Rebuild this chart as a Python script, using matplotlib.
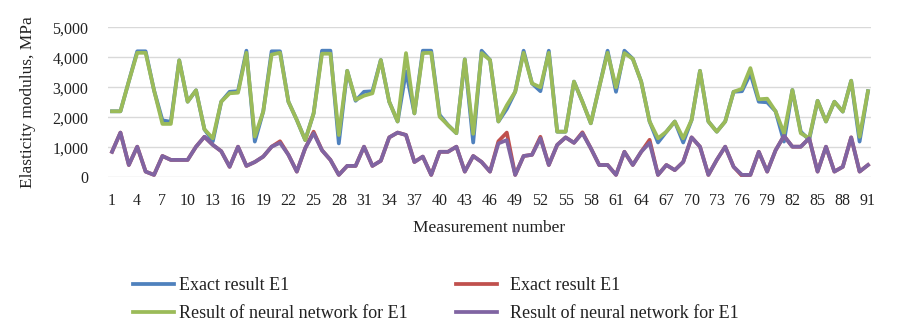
import matplotlib
matplotlib.use("Agg")
import matplotlib.pyplot as plt
from matplotlib.ticker import FuncFormatter, FixedLocator

measurement = list(range(1, 92))

exact_upper = [2200, 2200, 3200, 4200, 4200, 2900, 1900, 1850, 3900, 2520,
               2900, 1600, 1200, 2520, 2850, 2870, 4220, 1190, 2190, 4200,
               4200, 2520, 1910, 1240, 2130, 4220, 4220, 1130, 3550, 2550,
               2850, 2870, 3910, 2520, 1860, 3530, 2130, 4220, 4220, 2080,
               1740, 1470, 3930, 1160, 4220, 3910, 1860, 2280, 2850, 4220,
               3130, 2870, 4220, 1520, 1520, 3190, 2520, 1800, 3000, 4220,
               2850, 4220, 3950, 3190, 1860, 1160, 1520, 1860, 1160, 1910,
               3550, 1860, 1520, 1860, 2850, 2870, 3460, 2520, 2500, 2200,
               1190, 2910, 1520, 1250, 2550, 1860, 2520, 2190, 3220, 1190,
               2870]

nn_upper = [2200, 2200, 3200, 4150, 4150, 2900, 1780, 1780, 3900, 2520,
            2900, 1600, 1300, 2520, 2800, 2820, 4150, 1355, 2190, 4090,
            4150, 2520, 1910, 1240, 2130, 4120, 4120, 1410, 3550, 2580,
            2720, 2800, 3910, 2520, 1860, 4140, 2130, 4140, 4150, 2020,
            1740, 1470, 3930, 1450, 4140, 3910, 1860, 2400, 2850, 4150,
            3130, 3000, 4150, 1520, 1520, 3190, 2520, 1800, 3000, 4150,
            3000, 4140, 3950, 3190, 1860, 1300, 1520, 1860, 1300, 1910,
            3550, 1860, 1520, 1860, 2850, 2950, 3640, 2600, 2620, 2200,
            1470, 2910, 1470, 1300, 2550, 1860, 2520, 2190, 3220, 1350,
            2870]

nn_lower = [850, 1490, 410, 1020, 190, 80, 710, 580, 580, 580,
            1020, 1350, 1080, 870, 350, 1020, 380, 510, 690, 1020,
            1150, 750, 190, 970, 1470, 900, 580, 80, 380, 380,
            1020, 380, 550, 1330, 1490, 1410, 510, 690, 80, 850,
            850, 1020, 190, 710, 510, 190, 1130, 1240, 80, 710,
            750, 1300, 410, 1080, 1330, 1150, 1470, 970, 410, 410,
            80, 850, 410, 850, 1150, 80, 410, 240, 510, 1330,
            1020, 80, 580, 1020, 350, 80, 80, 850, 190, 900,
            1380, 1020, 1020, 1300, 190, 1020, 190, 350, 1330, 190,
            410]

exact_lower = list(nn_lower)
for idx, val in {21: 1200, 25: 1520, 47: 1200, 48: 1490, 52: 1350,
                 57: 1500, 65: 1250, 76: 50}.items():
    exact_lower[idx - 1] = val

labels = ["Exact result E1", "Exact result E1",
          "Result of neural network for E1", "Result of neural network for E1"]
colors = ["#4F81BD", "#C0504D", "#9BBB59", "#8064A2"]
yticks = [0, 1000, 2000, 3000, 4000, 5000]
xticks = list(range(1, 92, 3))

plt.rcParams['font.family'] = ['Liberation Serif', 'DejaVu Serif']

fig = plt.figure(figsize=(9.0, 3.29), dpi=100)
ax = fig.add_axes([108/900, 1 - 177.3/329, (871-108)/900, (177.3-27.3)/329])

lw = 2.7
l1, = ax.plot(measurement, exact_upper, color=colors[0], lw=lw, label=labels[0], zorder=3)
l2, = ax.plot(measurement, exact_lower, color=colors[1], lw=lw, label=labels[1], zorder=3)
l3, = ax.plot(measurement, nn_upper, color=colors[2], lw=lw, label=labels[2], zorder=4)
l4, = ax.plot(measurement, nn_lower, color=colors[3], lw=lw, label=labels[3], zorder=4)

ax.set_xlim(0.52, 91.36)
ax.set_ylim(0, 5000)
ax.yaxis.set_major_locator(FixedLocator(yticks))
ax.yaxis.set_major_formatter(FuncFormatter(lambda v, p: f"{int(v):,}"))
ax.xaxis.set_major_locator(FixedLocator(xticks))
ax.grid(axis='y', color='#D9D9D9', lw=1.0, zorder=0)
for s in ax.spines.values():
    s.set_visible(False)
ax.tick_params(length=0, labelsize=11.5, colors='#222222')
ax.tick_params(axis='x', pad=11)
ax.tick_params(axis='y', pad=14)
ax.set_xlabel("Measurement number", fontsize=12.5, color='#222222', labelpad=8)
ax.set_ylabel("Elasticity modulus, MPa", fontsize=12.5, color='#222222', labelpad=12)

leg_kw = dict(loc='upper left', frameon=False, fontsize=13, handlelength=2.28,
              labelspacing=0.6, labelcolor='#222222')
leg1 = fig.legend([l1, l3], [labels[0], labels[2]],
                  bbox_to_anchor=(117/900, 1 - 261/329), handletextpad=0.28, **leg_kw)
leg2 = fig.legend([l2, l4], [labels[1], labels[3]],
                  bbox_to_anchor=(440/900, 1 - 261/329), handletextpad=0.72, **leg_kw)

fig.savefig("out.png", dpi=100)
